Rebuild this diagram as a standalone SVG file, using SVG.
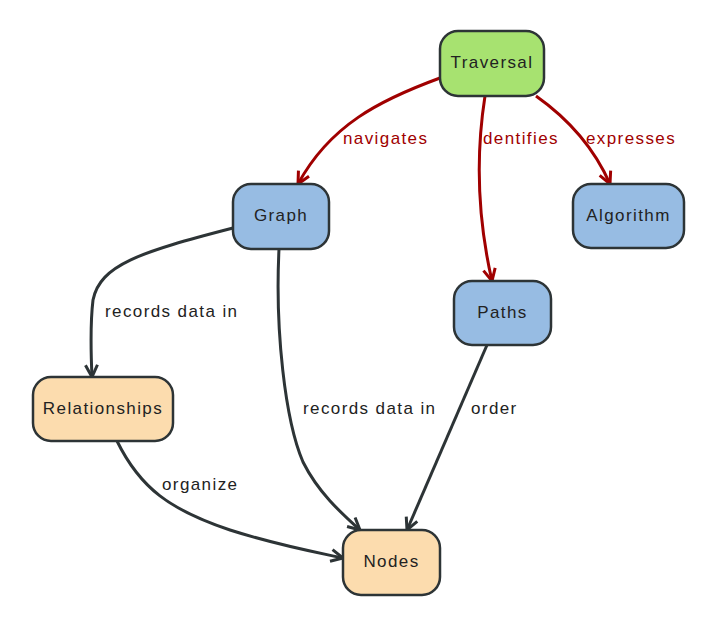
<svg xmlns="http://www.w3.org/2000/svg" width="724" height="619" viewBox="0 0 724 619">
<style>
.n rect{stroke:#2d3436;stroke-width:2.5}
.n text{font-family:"Liberation Sans",Arial,sans-serif;font-size:17px;letter-spacing:1.4px;fill:#222;text-anchor:middle;dominant-baseline:central}
.g rect{fill:#a7e270}
.b rect{fill:#97bce3}
.o rect{fill:#fcdcae}
.e path{fill:none;stroke-width:3}
.r path{stroke:#a00000}
.k path{stroke:#2d3436}
.l{font-family:"Liberation Sans",Arial,sans-serif;font-size:17px;letter-spacing:1.4px;dominant-baseline:central}
.lr{fill:#a00000}
.lk{fill:#222}
</style>
<defs>
<marker id="ar" markerUnits="userSpaceOnUse" markerWidth="16" markerHeight="16" viewBox="-1 -8 16 16" refX="12" refY="0" orient="auto">
<path d="M0,-6 L12,0 L0,6" fill="none" stroke="#a00000" stroke-width="3"/>
</marker>
<marker id="ak" markerUnits="userSpaceOnUse" markerWidth="16" markerHeight="16" viewBox="-1 -8 16 16" refX="12" refY="0" orient="auto">
<path d="M0,-6 L12,0 L0,6" fill="none" stroke="#2d3436" stroke-width="3"/>
</marker>
</defs>
<g id="connectors">
<g class="e r">
<path d="M440,78 C380,100 330,125 298,184" marker-end="url(#ar)"/>
<path d="M485,96 C475,160 478,220 492,281" marker-end="url(#ar)"/>
<path d="M536,96 C570,120 595,150 610,184" marker-end="url(#ar)"/>
</g>
<g class="e k">
<path d="M233,228 C140,252 100,265 93,300 C90,325 91,355 92,377" marker-end="url(#ak)"/>
<path d="M279,249 C275,330 285,420 303,462 C318,492 340,512 360,530" marker-end="url(#ak)"/>
<path d="M487,345 L407,530" marker-end="url(#ak)"/>
<path d="M117,441 C140,488 170,510 230,530 C280,546 320,553 343,558" marker-end="url(#ak)"/>
</g>
<text class="l lr" x="343" y="138">navigates</text>
<text class="l lr" x="483" y="138">dentifies</text>
<text class="l lr" x="586" y="138">expresses</text>
<text class="l lk" x="105" y="311">records data in</text>
<text class="l lk" x="303" y="408">records data in</text>
<text class="l lk" x="471" y="408">order</text>
<text class="l lk" x="162" y="484">organize</text>
</g>
<g id="traversal" class="n g"><rect x="440" y="31" width="104" height="65" rx="18"/><text x="492" y="62">Traversal</text></g>
<g id="graph" class="n b"><rect x="233" y="184" width="96" height="65" rx="18"/><text x="281" y="215">Graph</text></g>
<g id="algorithm" class="n b"><rect x="573" y="184" width="111" height="64" rx="18"/><text x="628.5" y="215">Algorithm</text></g>
<g id="paths" class="n b"><rect x="454" y="281" width="97" height="64" rx="18"/><text x="502.5" y="312">Paths</text></g>
<g id="relationships" class="n o"><rect x="33" y="377" width="140" height="64" rx="18"/><text x="103" y="408">Relationships</text></g>
<g id="nodes" class="n o"><rect x="343" y="530" width="97" height="65" rx="18"/><text x="391.5" y="561">Nodes</text></g>
</svg>
